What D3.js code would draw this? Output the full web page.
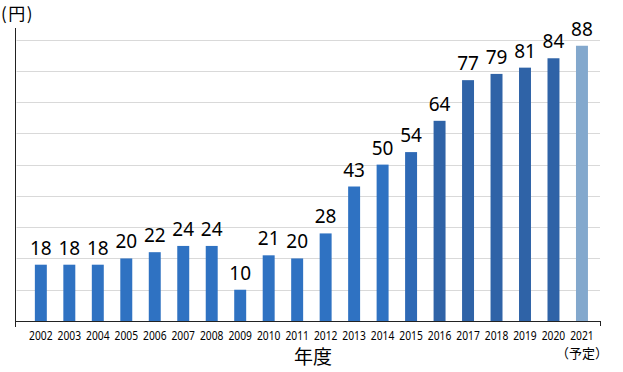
<!DOCTYPE html>
<html>
<head>
<meta charset="utf-8">
<script src="https://cdn.jsdelivr.net/npm/d3@7"></script>
<style>
  body { margin: 0; background: #fff; }
  svg { display: block; font-family: "Noto Sans", "Noto Sans CJK JP", sans-serif; }
</style>
</head>
<body>
<script>
// data
const years = ["2002","2003","2004","2005","2006","2007","2008","2009","2010","2011",
               "2012","2013","2014","2015","2016","2017","2018","2019","2020","2021"];
const dividends = [18,18,18,20,22,24,24,10,21,20,28,43,50,54,64,77,79,81,84,88];
const yTicks = [10,20,30,40,50,60,70,80,90];
const plannedYear = "2021";

const width = 623, height = 372;

const svg = d3.select("body").append("svg")
    .attr("width", width)
    .attr("height", height);

// scales
x = d3.scaleBand()
    .domain(years)
    .range([26.6, 596.2])
    .paddingInner(0.58)
    .paddingOuter(0.29);

y = d3.scaleLinear()
    .domain([0, 90])
    .range([321, 39.5]);

const axisX = 15.5, axisRight = 601;

function barColor(yr) {
    if (yr === plannedYear) return "#83a8cd";
    if (+yr >= 2016) return "#2f63a7";
    if (+yr === 2015) return "#2e69b5";
    return "#2f72c2";
}

// gridlines
svg.append("g")
    .selectAll("line")
    .data(yTicks)
    .join("line")
    .attr("x1", axisX + 1)
    .attr("x2", 600)
    .attr("y1", d => Math.round(y(d)) + 0.5)
    .attr("y2", d => Math.round(y(d)) + 0.5)
    .attr("stroke", "#d9d9d9")
    .attr("stroke-width", 1);

// bars
svg.selectAll(".bar")
    .data(years)
    .join("rect")
    .attr("class", "bar")
    .attr("x", d => x(d))
    .attr("y", (d, i) => y(dividends[i]))
    .attr("width", x.bandwidth())
    .attr("height", (d, i) => y(0) - y(dividends[i]))
    .attr("fill", d => barColor(d));

// value labels
svg.selectAll(".val")
    .data(years)
    .join("text")
    .attr("class", "val")
    .attr("x", d => x(d) + x.bandwidth() / 2)
    .attr("y", (d, i) => y(dividends[i]) - 10)
    .attr("text-anchor", "middle")
    .style("font-size", "19px")
    .style("fill", "#000")
    .text((d, i) => dividends[i]);

// axis lines
svg.append("line")
    .attr("x1", axisX).attr("x2", axisX)
    .attr("y1", 28).attr("y2", y(0) + 6)
    .attr("stroke", "#222");
svg.append("line")
    .attr("x1", axisX).attr("x2", axisRight)
    .attr("y1", y(0) + 0.5).attr("y2", y(0) + 0.5)
    .attr("stroke", "#222");
svg.append("line")
    .attr("x1", axisRight - 0.5).attr("x2", axisRight - 0.5)
    .attr("y1", y(0)).attr("y2", y(0) + 5)
    .attr("stroke", "#222");

// x axis labels
const gx = svg.append("g")
    .attr("transform", `translate(0,${y(0)})`)
    .call(d3.axisBottom(x).tickSize(0).tickPadding(0));
gx.select(".domain").remove();
gx.selectAll("text")
    .attr("y", 19)
    .attr("dy", 0)
    .attr("fill", "#000")
    .attr("font-family", "'Noto Sans', sans-serif")
    .attr("font-size", 13)
    .attr("textLength", 23.5)
    .attr("lengthAdjust", "spacingAndGlyphs");

// planned note
svg.append("text")
    .attr("x", x(plannedYear) + x.bandwidth() / 2)
    .attr("y", 358)
    .attr("text-anchor", "middle")
    .style("font-size", "13px")
    .style("font-family", "'Noto Sans CJK JP', sans-serif")
    .text("（予定）");

// x axis title
svg.append("text")
    .attr("x", 313)
    .attr("y", 364)
    .attr("text-anchor", "middle")
    .style("font-size", "19px")
    .style("font-family", "'Noto Sans CJK JP', sans-serif")
    .text("年度");

// y unit
svg.append("text")
    .attr("x", 1)
    .attr("y", 20)
    .style("font-size", "17px")
    .style("letter-spacing", "1.5px")
    .style("font-family", "'Noto Sans CJK JP', sans-serif")
    .text("(円)");
</script>
</body>
</html>
